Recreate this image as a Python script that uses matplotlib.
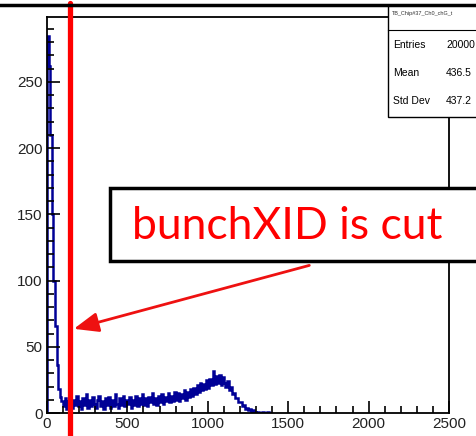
import numpy as np
import matplotlib
matplotlib.use("Agg")
import matplotlib.pyplot as plt
from matplotlib.patches import Rectangle
from matplotlib.ticker import MultipleLocator

# histogram content, 10-unit bins starting at 0
bin_width = 10
counts = [
    285, 262, 210, 150, 100, 66, 36, 18, 12, 9,
    5, 11, 3, 9, 12, 4, 10, 6, 13, 5,
    9, 3, 11, 6, 14, 4, 10, 5, 12, 7,
    4, 10, 13, 5, 9, 3, 11, 6, 12, 4,
    10, 5, 14, 7, 4, 11, 6, 13, 5, 10,
    7, 12, 4, 10, 6, 13, 5, 11, 7, 14,
    6, 11, 5, 12, 8, 15, 7, 11, 6, 13,
    8, 14, 7, 12, 9, 15, 8, 13, 9, 16,
    10, 15, 9, 14, 11, 17, 10, 16, 12, 18,
    13, 19, 14, 21, 16, 23, 17, 22, 18, 25,
    19, 26, 21, 32, 22, 28, 23, 29, 21, 27,
    23, 20, 24, 17, 20, 14, 15, 11, 11, 8,
    8, 5, 6, 3, 4, 2, 3, 1, 2, 1,
    0, 1, 0, 0, 1, 0, 0, 1, 0, 0,
]
cut_x = 145
stats_title = "TB_Chip#37_Ch0_chG_t"
stats_names = ["Entries", "Mean", "Std Dev"]
stats_values = ["20000", "436.5", "437.2"]
note = "bunchXID is cut"

W, H = 477, 436
fig = plt.figure(figsize=(W / 100, H / 100), dpi=100)
ax = fig.add_axes([47 / W, 1 - 413 / H, 402 / W, 396 / H])

edges = np.arange(len(counts) + 1) * bin_width
ax.stairs(counts, edges, color="#000096", lw=1.8)

ax.set_xlim(0, 2500)
ax.set_ylim(0, 299)
ax.xaxis.set_major_locator(MultipleLocator(500))
ax.xaxis.set_minor_locator(MultipleLocator(100))
ax.yaxis.set_major_locator(MultipleLocator(50))
ax.yaxis.set_minor_locator(MultipleLocator(10))
ax.tick_params(which="both", direction="in", top=False, right=False,
               width=1.2, labelsize=11, colors="black")
ax.tick_params(which="major", length=9, pad=3)
ax.tick_params(which="minor", length=5)
for lab in ax.get_xticklabels() + ax.get_yticklabels():
    lab.set_family("Liberation Sans")
    lab.set_color("#222222")
for s in ax.spines.values():
    s.set_linewidth(1.3)

# slide separator line at top
fig.add_artist(plt.Line2D([0, 1], [1 - 5 / H, 1 - 5 / H], color="black", lw=2.5))

# stats box
fig.add_artist(Rectangle((388 / W, 1 - 117 / H), 100 / W, 112 / H,
                         transform=fig.transFigure, facecolor="white",
                         edgecolor="black", lw=1.0))
fig.add_artist(plt.Line2D([388 / W, 1], [1 - 30 / H, 1 - 30 / H], color="black", lw=0.8))
fig.text(392 / W, 1 - 13 / H, stats_title, fontsize=4, family="Liberation Sans",
         va="center", color="#333333")
for i, (n, v) in enumerate(zip(stats_names, stats_values)):
    y = 1 - (45 + 28 * i) / H
    fig.text(393 / W, y, n, fontsize=7.5, family="Liberation Sans", va="center")
    fig.text(446 / W, y, v, fontsize=7.5, family="Liberation Sans", va="center",
             ha="left")

# cut line
ax.axvline(cut_x, ymin=-0.06, ymax=1.035, color="red", lw=3.8,
           clip_on=False, solid_capstyle="round", zorder=5)

# annotation box
fig.add_artist(Rectangle((110 / W, 1 - 261 / H), 380 / W, 73 / H,
                         transform=fig.transFigure, facecolor="white",
                         edgecolor="black", lw=2.5, zorder=6))
fig.text(132 / W, 1 - 226 / H, note, fontsize=32, family="Lato",
         color="#ff0000", va="center", ha="left", zorder=7)

ax.annotate("", xy=(cut_x + 5, 63), xytext=(1648, 112),
            arrowprops=dict(arrowstyle="-|>,head_length=1.5,head_width=0.6",
                            color="#ee1111", lw=2), zorder=6,
            annotation_clip=False)

fig.savefig("out.png", dpi=100)
